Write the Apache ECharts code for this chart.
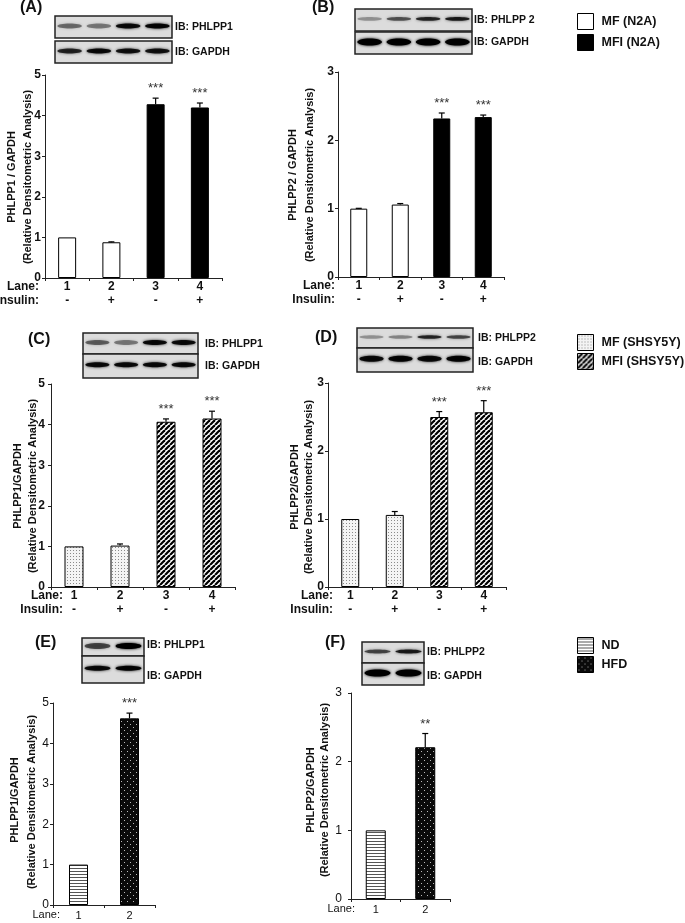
<!DOCTYPE html>
<html>
<head>
<meta charset="utf-8">
<script src="https://cdn.jsdelivr.net/npm/echarts@6/dist/echarts.min.js"></script>
<style>
  html, body { margin: 0; padding: 0; background: #fff; }
  #main { width: 685px; height: 923px; }
</style>
</head>
<body>
<div id="main"></div>
<script>
// lanes / treatment
const lanes4 = ['1', '2', '3', '4'];
const lanes2 = ['1', '2'];
const insulin = ['-', '+', '-', '+'];
const group4 = [0, 0, 1, 1]; // 0 = MF, 1 = MFI
const group2 = [0, 1];       // 0 = ND, 1 = HFD

// (A) PHLPP1 / GAPDH, N2A
const valA = [1.0, 0.88, 4.28, 4.2];
const errA = [0, 0.01, 0.15, 0.11];
const sigA = ['', '', '***', '***'];
// (B) PHLPP2 / GAPDH, N2A
const valB = [1.0, 1.06, 2.32, 2.34];
const errB = [0.005, 0.015, 0.08, 0.03];
const sigB = ['', '', '***', '***'];
// (C) PHLPP1 / GAPDH, SHSY5Y
const valC = [1.0, 1.02, 4.07, 4.15];
const errC = [0, 0.04, 0.07, 0.18];
const sigC = ['', '', '***', '***'];
// (D) PHLPP2 / GAPDH, SHSY5Y
const valD = [1.0, 1.06, 2.5, 2.57];
const errD = [0, 0.05, 0.08, 0.17];
const sigD = ['', '', '***', '***'];
// (E) PHLPP1 / GAPDH, ND vs HFD
const valE = [1.0, 4.62];
const errE = [0, 0.13];
const sigE = ['', '***'];
// (F) PHLPP2 / GAPDH, ND vs HFD
const valF = [1.0, 2.21];
const errF = [0, 0.2];
const sigF = ['', '**'];

const FONT = 'Liberation Sans, Arial, sans-serif';
const SUB = '(Relative Densitometric Analysis)';

// fill patterns drawn on small canvases
function pat(w, h, draw) {
  const c = document.createElement('canvas');
  c.width = w; c.height = h;
  const g = c.getContext('2d');
  draw(g, w, h);
  return { image: c, repeat: 'repeat' };
}
const pWhite = '#ffffff';
const pBlack = '#000000';
const pDots = pat(3, 3, (g) => {
  g.fillStyle = '#f4f4f4'; g.fillRect(0, 0, 3, 3);
  g.fillStyle = '#8a8a8a'; g.fillRect(1, 1, 1, 1);
});
const pStripes = pat(5, 5, (g) => {
  g.fillStyle = '#fff'; g.fillRect(0, 0, 5, 5);
  g.strokeStyle = '#000'; g.lineWidth = 2.2;
  for (let k = -5; k <= 5; k += 5) {
    g.beginPath(); g.moveTo(k, 5); g.lineTo(k + 5, 0); g.stroke();
  }
});
const pLines = pat(3, 3, (g) => {
  g.fillStyle = '#fff'; g.fillRect(0, 0, 3, 3);
  g.fillStyle = '#555'; g.fillRect(0, 1, 3, 1);
});
const pSpeck = pat(6, 6, (g) => {
  g.fillStyle = '#0a0a0a'; g.fillRect(0, 0, 6, 6);
  g.fillStyle = '#bbb'; g.fillRect(1, 1, 1, 1); g.fillRect(4, 4, 1, 1);
});

const grids = [
  { left: 45, top: 75, width: 177, height: 203 },
  { left: 338, top: 72, width: 166, height: 205 },
  { left: 51, top: 384, width: 184, height: 203 },
  { left: 328, top: 383, width: 178, height: 204 },
  { left: 53, top: 703, width: 102, height: 202 },
  { left: 351, top: 693, width: 99, height: 206 }
];

const panels = [
  { lanes: lanes4, val: valA, err: errA, sig: sigA, grp: group4, max: 5, names: ['MF (N2A)', 'MFI (N2A)'], fills: [pWhite, pBlack], bw: 18, ins: true, lm: 4 },
  { lanes: lanes4, val: valB, err: errB, sig: sigB, grp: group4, max: 3, names: ['MF (N2A)', 'MFI (N2A)'], fills: [pWhite, pBlack], bw: 17, ins: true, lm: 4 },
  { lanes: lanes4, val: valC, err: errC, sig: sigC, grp: group4, max: 5, names: ['MF (SHSY5Y)', 'MFI (SHSY5Y)'], fills: [pDots, pStripes], bw: 19, ins: true, lm: 6 },
  { lanes: lanes4, val: valD, err: errD, sig: sigD, grp: group4, max: 3, names: ['MF (SHSY5Y)', 'MFI (SHSY5Y)'], fills: [pDots, pStripes], bw: 18, ins: true, lm: 4 },
  { lanes: lanes2, val: valE, err: errE, sig: sigE, grp: group2, max: 5, names: ['ND', 'HFD'], fills: [pLines, pSpeck], bw: 19, ins: false, lm: 4 },
  { lanes: lanes2, val: valF, err: errF, sig: sigF, grp: group2, max: 3, names: ['ND', 'HFD'], fills: [pLines, pSpeck], bw: 20, ins: false, lm: 9 }
];

const xAxis = [], yAxis = [], series = [];
panels.forEach((p, i) => {
  const bold = p.ins;
  xAxis.push({
    type: 'category', gridIndex: i, data: p.lanes,
    axisLine: { lineStyle: { color: '#222', width: 1 } },
    axisTick: { show: true, interval: 0, length: 3, lineStyle: { color: '#222' } },
    axisLabel: {
      interval: 0, margin: p.ins ? 2 : 4, color: '#111', fontFamily: FONT,
      fontSize: p.ins ? 12 : 11, fontWeight: bold ? 'bold' : 'normal', lineHeight: 14,
      formatter: (v, idx) => p.ins ? v + '\n' + insulin[idx] : v
    }
  });
  yAxis.push({
    type: 'value', gridIndex: i, min: 0, max: p.max, interval: 1,
    axisLine: { show: true, lineStyle: { color: '#222', width: 1 } },
    axisTick: { show: true, length: 3, lineStyle: { color: '#222' } },
    splitLine: { show: false },
    axisLabel: { color: '#111', fontFamily: FONT, fontSize: 12, fontWeight: bold ? 'bold' : 'normal', margin: p.lm }
  });
  [0, 1].forEach((g) => {
    series.push({
      type: 'bar', name: p.names[g], xAxisIndex: i, yAxisIndex: i,
      data: p.val.map((v, j) => (p.grp[j] === g ? v : '-')),
      barWidth: p.bw, barGap: '-100%',
      itemStyle: { color: p.fills[g], borderColor: '#000', borderWidth: 1 },
      emphasis: { disabled: true }
    });
  });
  series.push({
    type: 'custom', xAxisIndex: i, yAxisIndex: i, z: 10,
    data: p.val.map((v, j) => [j, v, p.err[j]]),
    renderItem: (params, api) => {
      const j = api.value(0), v = api.value(1), e = api.value(2);
      const base = api.coord([j, v]);
      const top = api.coord([j, v + e]);
      const x = base[0];
      const ch = [];
      if (e > 0) {
        ch.push({ type: 'line', shape: { x1: x, y1: base[1], x2: x, y2: top[1] }, style: { stroke: '#000', lineWidth: 1.2 } });
        ch.push({ type: 'line', shape: { x1: x - 3, y1: top[1], x2: x + 3, y2: top[1] }, style: { stroke: '#000', lineWidth: 1.2 } });
      }
      const s = p.sig[params.dataIndex];
      if (s) {
        ch.push({ type: 'text', style: { text: s, x: x, y: top[1] - 3, align: 'center', verticalAlign: 'bottom', fontSize: 13, fontFamily: FONT, fill: '#333' } });
      }
      return { type: 'group', children: ch };
    }
  });
});

// text helper for graphic
function txt(text, x, y, size, weight, align) {
  return { type: 'text', style: { text: text, x: x, y: y, fontSize: size, fontWeight: weight || 'bold', fontFamily: FONT, fill: '#111', align: align || 'left', verticalAlign: 'middle' } };
}
// rotated y-axis title line
function ylab(text, x, y) {
  return { type: 'text', x: x, y: y, rotation: Math.PI / 2, style: { text: text, x: 0, y: 0, fontSize: 11, fontWeight: 'bold', fontFamily: FONT, fill: '#111', align: 'center', verticalAlign: 'middle' } };
}
// western blot strip (picture stand-in)
function blot(x, y, w, h, bands, thick) {
  const n = bands.length, ch = [];
  ch.push({ type: 'rect', shape: { x: x, y: y, width: w, height: h }, style: { fill: '#dcdcdc', stroke: '#222', lineWidth: 1.5 } });
  bands.forEach((a, k) => {
    const cx = x + w * (k + 0.5) / n;
    ch.push({ type: 'ellipse', shape: { cx: cx, cy: y + h * 0.45, rx: w / n * 0.42, ry: thick || 2 },
      style: { fill: 'rgba(0,0,0,' + a + ')', shadowBlur: 3, shadowColor: 'rgba(0,0,0,' + a + ')' } });
  });
  return ch;
}

const graphic = [].concat(
  // (A)
  [txt('(A)', 20, 8, 16), txt('IB: PHLPP1', 175, 27, 10.5), txt('IB: GAPDH', 175, 52, 10.5),
   txt('Lane:', 39, 287, 12, 'bold', 'right'), txt('Insulin:', 39, 301, 12, 'bold', 'right'),
   ylab('PHLPP1 / GAPDH', 12, 177), ylab(SUB, 28, 177)],
  blot(55, 16, 117, 22, [0.45, 0.4, 0.9, 0.95], 2.5), blot(55, 41, 117, 22, [0.75, 0.9, 0.85, 0.85], 2.5),
  // (B)
  [txt('(B)', 312, 8, 16), txt('IB: PHLPP 2', 474, 20, 10.5), txt('IB: GAPDH', 474, 42, 10.5),
   txt('Lane:', 335, 286, 12, 'bold', 'right'), txt('Insulin:', 335, 300, 12, 'bold', 'right'),
   ylab('PHLPP2 / GAPDH', 293, 175), ylab(SUB, 310, 175)],
  blot(355, 9, 117, 22, [0.3, 0.55, 0.75, 0.8], 1.8), blot(355, 32, 117, 22, [1, 1, 1, 1], 3.5),
  // (C)
  [txt('(C)', 28, 340, 16), txt('IB: PHLPP1', 205, 344, 10.5), txt('IB: GAPDH', 205, 366, 10.5),
   txt('Lane:', 63, 596, 12, 'bold', 'right'), txt('Insulin:', 63, 610, 12, 'bold', 'right'),
   ylab('PHLPP1/GAPDH', 18, 486), ylab(SUB, 33, 486)],
  blot(83, 333, 115, 21, [0.5, 0.4, 0.9, 0.9], 2.5), blot(83, 354, 115, 24, [0.9, 0.9, 0.9, 0.9], 2.5),
  // (D)
  [txt('(D)', 315, 338, 16), txt('IB: PHLPP2', 478, 338, 10.5), txt('IB: GAPDH', 478, 362, 10.5),
   txt('Lane:', 333, 596, 12, 'bold', 'right'), txt('Insulin:', 333, 610, 12, 'bold', 'right'),
   ylab('PHLPP2/GAPDH', 295, 487), ylab(SUB, 309, 487)],
  blot(357, 328, 116, 20, [0.3, 0.35, 0.75, 0.6], 1.8), blot(357, 348, 116, 24, [0.9, 0.95, 0.9, 0.95], 3),
  // (E)
  [txt('(E)', 35, 643, 16), txt('IB: PHLPP1', 147, 645, 10.5), txt('IB: GAPDH', 147, 676, 10.5),
   txt('Lane:', 60, 915, 11, 'normal', 'right'),
   ylab('PHLPP1/GAPDH', 15, 800), ylab(SUB, 32, 802)],
  blot(82, 638, 62, 18, [0.6, 1], 3), blot(82, 656, 62, 27, [0.9, 0.95], 2.5),
  // (F)
  [txt('(F)', 325, 643, 16), txt('IB: PHLPP2', 427, 652, 10.5), txt('IB: GAPDH', 427, 676, 10.5),
   txt('Lane:', 355, 909, 11, 'normal', 'right'),
   ylab('PHLPP2/GAPDH', 311, 790), ylab(SUB, 325, 790)],
  blot(362, 642, 62, 21, [0.6, 0.8], 2), blot(362, 663, 62, 22, [1, 1], 3.5)
);

function legend(names, top, gap) {
  return {
    data: names, orient: 'vertical', left: 577, top: top, padding: 0,
    itemWidth: 16, itemHeight: 16, itemGap: gap,
    icon: 'rect', selectedMode: false,
    itemStyle: { borderColor: '#000', borderWidth: 1 },
    textStyle: { fontFamily: FONT, fontSize: 12.5, fontWeight: 'bold', color: '#111', padding: [0, 0, 0, 3] }
  };
}

const chart = echarts.init(document.getElementById('main'), null, { renderer: 'canvas' });
chart.setOption({
  backgroundColor: '#fff',
  animation: false,
  grid: grids,
  xAxis: xAxis,
  yAxis: yAxis,
  legend: [
    legend(['MF (N2A)', 'MFI (N2A)'], 13, 4),
    legend(['MF (SHSY5Y)', 'MFI (SHSY5Y)'], 334, 2),
    legend(['ND', 'HFD'], 637, 2)
  ],
  graphic: graphic,
  series: series
});
window.addEventListener('resize', () => chart.resize());
</script>
</body>
</html>
